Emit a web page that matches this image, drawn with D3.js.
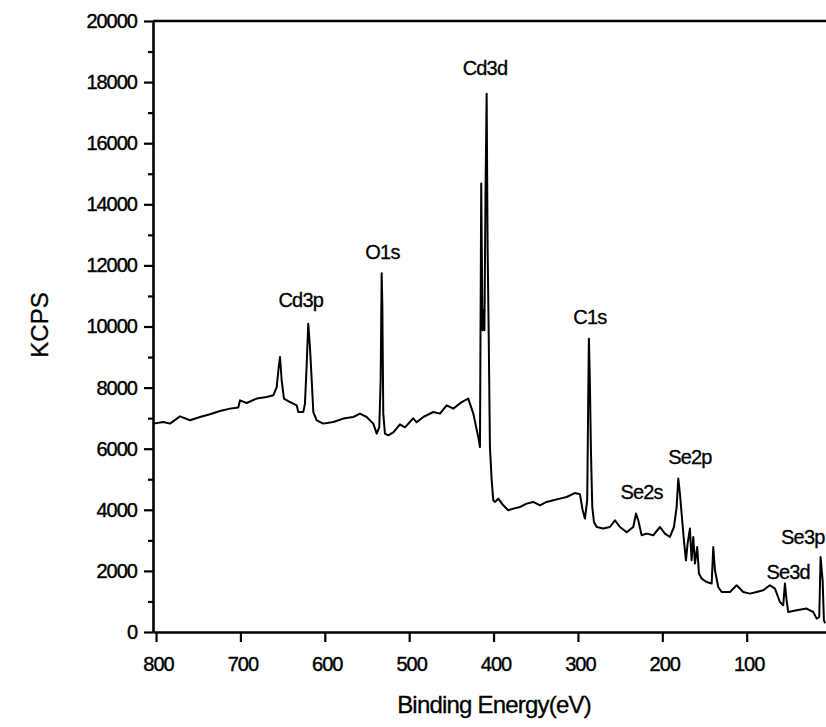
<!DOCTYPE html>
<html>
<head>
<meta charset="utf-8">
<script src="https://cdn.jsdelivr.net/npm/d3@7"></script>
<style>
  body { margin: 0; background: #fff; }
  text { font-family: "Liberation Sans", Arial, sans-serif; fill: #000; }
</style>
</head>
<body>
<script>
// Spectrum: binding energy (eV) and counts (KCPS)
const bindingEnergy = [
  803.2, 791.4, 783.5, 771.6, 759.8, 747.9, 736.0, 724.2, 712.3, 702.5,
  700.5, 692.6, 680.7, 668.9, 661.0, 657.0, 654.6, 653.1, 651.1, 648.4,
  641.3, 633.3, 631.4, 625.5, 623.5, 621.4, 619.6, 617.6, 615.5, 613.6,
  609.6, 601.8, 589.9, 578.1, 566.2, 558.3, 550.4, 542.5, 538.5, 535.4,
  533.8, 532.6, 531.8, 530.7, 528.7, 524.8, 518.8, 510.9, 505.0, 495.1,
  491.1, 483.3, 471.4, 463.5, 455.6, 447.7, 437.8, 430.0, 424.0, 418.1,
  416.1, 414.6, 413.1, 412.0, 410.8, 409.6, 408.2, 407.0, 405.8, 404.3,
  402.2, 400.3, 398.3, 394.4, 388.5, 382.6, 376.6, 368.7, 360.8, 352.9,
  345.0, 337.1, 329.3, 321.3, 313.4, 303.5, 297.6, 294.4, 291.7, 289.0,
  287.8, 287.0, 285.8, 284.6, 283.0, 281.0, 277.8, 270.0, 262.1, 256.1,
  250.2, 242.2, 234.4, 231.2, 228.5, 224.5, 218.6, 210.7, 202.8, 196.9,
  191.0, 186.2, 183.0, 181.1, 179.1, 177.1, 174.4, 172.0, 170.0, 167.3,
  165.3, 163.3, 161.3, 158.6, 156.6, 153.4, 147.5, 141.5, 139.6, 137.6,
  133.7, 129.7, 119.8, 111.9, 104.1, 96.1, 88.2, 80.4, 72.5, 66.5,
  60.6, 56.7, 54.7, 52.7, 50.8, 40.8, 29.0, 21.1, 17.1, 14.0,
  12.4, 10.0, 8.5, 6.9
]
const kcps = [
  6821, 6874, 6821, 7060, 6930, 7038, 7126, 7234, 7312, 7345,
  7584, 7496, 7640, 7692, 7748, 8019, 8674, 9001, 8239, 7640,
  7528, 7420, 7201, 7201, 7476, 8785, 10094, 9328, 8239, 7201,
  6930, 6821, 6874, 6985, 7038, 7148, 7038, 6821, 6494, 6710,
  8239, 11741, 10690, 7148, 6494, 6439, 6537, 6798, 6700, 6995,
  6864, 7038, 7201, 7148, 7420, 7312, 7528, 7640, 7148, 6382,
  6055, 14677, 9875, 10530, 9875, 14130, 17622, 12493, 9875, 6055,
  4965, 4311, 4256, 4366, 4147, 3984, 4039, 4092, 4203, 4256,
  4147, 4256, 4311, 4366, 4419, 4550, 4507, 3984, 3712, 4311,
  7584, 9603, 8131, 5948, 4092, 3601, 3437, 3385, 3437, 3656,
  3437, 3264, 3437, 3876, 3656, 3166, 3221, 3166, 3437, 3221,
  3110, 3437, 4092, 5021, 4530, 3876, 3002, 2347, 2894, 3385,
  2347, 3110, 2239, 2784, 1912, 1748, 1638, 1585, 2784, 2020,
  1473, 1310, 1310, 1529, 1310, 1257, 1310, 1365, 1529, 1420,
  982, 874, 1585, 1038, 655, 710, 766, 655, 438, 491,
  2455, 1692, 383, 285
]

// Peak labels (placed in data coordinates)
const peakNames = ['Cd3p', 'O1s', 'Cd3d', 'C1s', 'Se2s', 'Se2p', 'Se3d', 'Se3p']
const peakLabelEnergy = [628.5, 531.6, 410.2, 285.8, 224.5, 167.3, 50.8, 33.5]
const peakLabelKcps = [10628, 12222, 18221, 10094, 4366, 5512, 1748, 2894]

// Axis ticks
const xTicks = [800, 700, 600, 500, 400, 300, 200, 100]
const yTicks = [0, 2000, 4000, 6000, 8000, 10000, 12000, 14000, 16000, 18000, 20000]
const yMinorTicks = [1000, 3000, 5000, 7000, 9000, 11000, 13000, 15000, 17000, 19000]

const margin = {top: 21, right: 0, bottom: 95, left: 153}
const width = 826 - margin.left - margin.right
const height = 727 - margin.top - margin.bottom

const svg = d3.select('body').append('svg')
  .attr('width', 826)
  .attr('height', 727)

const g = svg.append('g')
  .attr('transform', `translate(${margin.left},${margin.top})`)

// Scales (energy axis runs high -> low)
const xscale = d3.scaleLinear().domain([803.6, 6]).range([0, width])
const yscale = d3.scaleLinear().domain([0, 20000]).range([height, 0])

// spectrum
const data = bindingEnergy.map((be, i) => ({be: be, c: kcps[i]}))
const line = d3.line().x(d => xscale(d.be)).y(d => yscale(d.c))

g.append('path')
  .datum(data)
  .attr('d', line)
  .attr('fill', 'none')
  .attr('stroke', '#000')
  .attr('stroke-width', 2)
  .attr('stroke-linejoin', 'round')

// top frame line
g.append('line')
  .attr('x1', 0).attr('x2', width)
  .attr('y1', 0).attr('y2', 0)
  .attr('stroke', '#000')
  .attr('stroke-width', 2.6)

// y minor ticks
g.append('g').call(d3.axisLeft(yscale).tickValues(yMinorTicks).tickSize(5).tickFormat(''))
  .call(a => a.select('.domain').remove())
  .selectAll('line').attr('stroke-width', 2.2)

// y axis
const g_yaxis = g.append('g').attr('class', 'y axis')
  .call(d3.axisLeft(yscale).tickValues(yTicks).tickSize(9).tickSizeOuter(0).tickPadding(7).tickFormat(d3.format('d')))
g_yaxis.select('.domain').attr('stroke-width', 2.6)
g_yaxis.selectAll('line').attr('stroke-width', 2.2)

// x axis
const g_xaxis = g.append('g').attr('class', 'x axis')
  .attr('transform', `translate(0,${height})`)
  .call(d3.axisBottom(xscale).tickValues(xTicks).tickSize(10).tickSizeOuter(0).tickPadding(15).tickFormat(d3.format('d')))
g_xaxis.select('.domain').attr('stroke-width', 2.6)
g_xaxis.selectAll('line').attr('stroke-width', 2.2)

svg.selectAll('.axis text')
  .style('font-size', '20px')
  .style('font-family', '"Liberation Sans", Arial, sans-serif')
  .attr('letter-spacing', '-1')
  .attr('stroke', '#000')
  .attr('stroke-width', 0.4)
g_xaxis.selectAll('text').attr('dx', 2)

// peak labels
g.selectAll('.peak')
  .data(peakNames)
  .join('text')
  .attr('class', 'peak')
  .attr('x', (d, i) => xscale(peakLabelEnergy[i]))
  .attr('y', (d, i) => yscale(peakLabelKcps[i]))
  .attr('text-anchor', 'middle')
  .attr('letter-spacing', '-0.8')
  .attr('stroke', '#000')
  .attr('stroke-width', 0.3)
  .style('font-size', '20px')
  .text(d => d)

// axis titles
svg.append('text')
  .attr('x', 494)
  .attr('y', 713)
  .attr('text-anchor', 'middle')
  .attr('letter-spacing', '-0.8')
  .attr('stroke', '#000')
  .attr('stroke-width', 0.3)
  .style('font-size', '24px')
  .text('Binding Energy(eV)')

svg.append('text')
  .attr('transform', 'translate(48,325) rotate(-90)')
  .attr('text-anchor', 'middle')
  .attr('stroke', '#000')
  .attr('stroke-width', 0.3)
  .style('font-size', '24px')
  .text('KCPS')
</script>
</body>
</html>
